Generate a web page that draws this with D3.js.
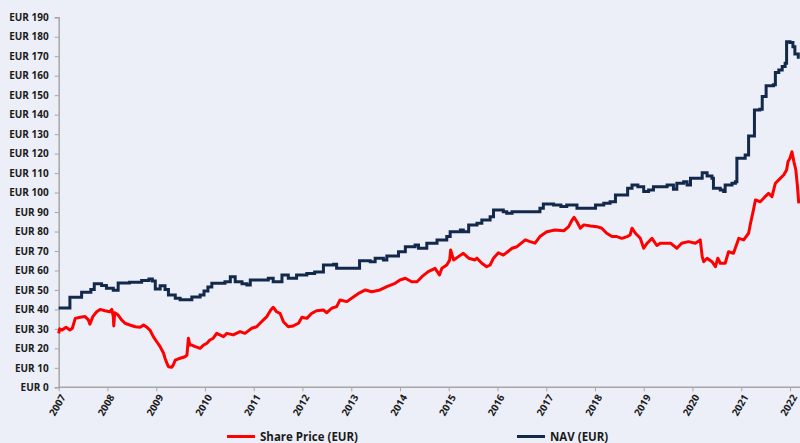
<!DOCTYPE html>
<html>
<head>
<meta charset="utf-8">
<script src="https://cdn.jsdelivr.net/npm/d3@7"></script>
<style>
  html, body { margin: 0; padding: 0; background: #ECEFF8; }
  svg { display: block; }
  text { font-family: "Open Sans", sans-serif; font-weight: bold; fill: #1a1a1a; }
</style>
</head>
<body>
<script>
//chart data, dates as decimal years
var navDates = [2007.0, 2007.23, 2007.47, 2007.66, 2007.73, 2007.88, 2007.98, 2008.12, 2008.22, 2008.45,
    2008.7, 2008.85, 2008.92, 2008.98, 2009.08, 2009.18, 2009.25, 2009.39, 2009.49, 2009.73,
    2009.9, 2009.98, 2010.06, 2010.14, 2010.41, 2010.52, 2010.62, 2010.76, 2010.86, 2010.93,
    2011.3, 2011.4, 2011.58, 2011.71, 2011.88, 2012.09, 2012.25, 2012.43, 2012.64, 2012.7,
    2013.17, 2013.39, 2013.49, 2013.66, 2013.73, 2013.97, 2014.11, 2014.31, 2014.38, 2014.55,
    2014.76, 2014.96, 2015.03, 2015.24, 2015.3, 2015.41, 2015.58, 2015.68, 2015.85, 2015.92,
    2016.12, 2016.19, 2016.3, 2016.87, 2016.94, 2017.15, 2017.3, 2017.42, 2017.63, 2018.01,
    2018.18, 2018.31, 2018.42, 2018.67, 2018.76, 2018.88, 2019.0, 2019.1, 2019.2, 2019.48,
    2019.61, 2019.68, 2019.82, 2019.89, 2019.96, 2020.2, 2020.3, 2020.4, 2020.43, 2020.57,
    2020.64, 2020.67, 2020.81, 2020.88, 2020.91, 2021.08, 2021.15, 2021.27, 2021.38, 2021.43,
    2021.51, 2021.66, 2021.7, 2021.77, 2021.84, 2021.9, 2021.93, 2022.0, 2022.06, 2022.1,
    2022.17, 2022.2];
var navValues = [40.7, 46.2, 48.8, 50.2, 53.2, 52.3, 50.8, 49.8, 53.6, 54.0,
    54.8, 55.6, 54.6, 50.5, 52.2, 50.2, 47.4, 45.7, 45.0, 46.4,
    47.4, 49.5, 51.5, 53.4, 54.2, 56.8, 54.2, 53.2, 52.5, 55.1,
    56.0, 54.2, 57.7, 56.0, 57.7, 58.5, 59.2, 62.8, 63.2, 61.1,
    65.0, 64.5, 66.3, 65.4, 67.4, 69.6, 72.2, 73.1, 71.4, 74.0,
    75.7, 77.4, 79.9, 80.8, 79.9, 83.4, 84.2, 85.9, 87.6, 91.1,
    90.2, 89.4, 90.2, 91.9, 94.1, 93.6, 92.8, 93.6, 91.9, 93.6,
    94.5, 95.3, 98.8, 102.2, 103.9, 103.0, 100.5, 101.3, 103.0, 103.9,
    101.7, 104.8, 105.6, 103.9, 107.3, 110.2, 108.5, 107.3, 102.2, 101.3,
    100.5, 103.9, 104.8, 105.6, 117.6, 119.3, 129.1, 142.4, 142.8, 149.3,
    154.8, 155.3, 161.6, 163.0, 164.7, 166.4, 177.5, 177.0, 174.9, 171.2,
    169.5, 169.5];

var priceDates = [2007.0, 2007.02, 2007.07, 2007.15, 2007.23, 2007.28, 2007.34, 2007.44, 2007.54, 2007.61,
    2007.64, 2007.7, 2007.78, 2007.85, 2007.95, 2008.05, 2008.09, 2008.12, 2008.13, 2008.15,
    2008.22, 2008.29, 2008.36, 2008.46, 2008.57, 2008.67, 2008.74, 2008.81, 2008.87, 2008.94,
    2009.01, 2009.08, 2009.15, 2009.18, 2009.22, 2009.25, 2009.32, 2009.35, 2009.39, 2009.49,
    2009.59, 2009.63, 2009.66, 2009.69, 2009.73, 2009.8, 2009.9, 2009.97, 2010.04, 2010.1,
    2010.17, 2010.24, 2010.38, 2010.45, 2010.58, 2010.72, 2010.82, 2010.96, 2011.06, 2011.13,
    2011.2, 2011.27, 2011.35, 2011.4, 2011.47, 2011.54, 2011.61, 2011.71, 2011.81, 2011.92,
    2011.99, 2012.09, 2012.19, 2012.29, 2012.43, 2012.5, 2012.6, 2012.7, 2012.77, 2012.91,
    2013.05, 2013.17, 2013.29, 2013.42, 2013.59, 2013.73, 2013.9, 2014.0, 2014.11, 2014.24,
    2014.35, 2014.45, 2014.58, 2014.72, 2014.81, 2014.86, 2014.96, 2015.02, 2015.04, 2015.1,
    2015.2, 2015.3, 2015.41, 2015.54, 2015.58, 2015.68, 2015.78, 2015.85, 2015.92, 2016.02,
    2016.12, 2016.23, 2016.3, 2016.4, 2016.57, 2016.67, 2016.77, 2016.87, 2017.01, 2017.18,
    2017.36, 2017.46, 2017.53, 2017.57, 2017.63, 2017.7, 2017.77, 2017.91, 2018.04, 2018.14,
    2018.24, 2018.35, 2018.45, 2018.55, 2018.66, 2018.72, 2018.76, 2018.83, 2018.93, 2019.0,
    2019.07, 2019.17, 2019.27, 2019.34, 2019.55, 2019.68, 2019.78, 2019.92, 2020.06, 2020.16,
    2020.2, 2020.23, 2020.3, 2020.4, 2020.47, 2020.52, 2020.57, 2020.67, 2020.74, 2020.84,
    2020.95, 2021.05, 2021.15, 2021.19, 2021.25, 2021.29, 2021.39, 2021.49, 2021.56, 2021.63,
    2021.7, 2021.8, 2021.87, 2021.93, 2021.96, 2022.0, 2022.04, 2022.08, 2022.12, 2022.15,
    2022.18];
var priceValues = [27.7, 30.0, 29.4, 30.8, 29.4, 30.3, 35.4, 36.0, 36.3, 34.6,
    32.4, 36.3, 38.8, 40.0, 39.3, 38.8, 40.0, 36.3, 31.5, 38.3,
    37.1, 34.6, 32.9, 32.0, 31.1, 30.8, 32.0, 30.8, 29.4, 26.0,
    23.4, 20.9, 17.5, 14.9, 12.3, 10.6, 10.3, 11.5, 14.0, 14.9,
    15.7, 16.5, 25.2, 21.7, 21.7, 20.9, 20.0, 21.7, 22.6, 24.3,
    25.2, 27.7, 26.0, 27.7, 26.9, 28.6, 27.7, 30.3, 31.1, 32.9,
    34.6, 36.3, 39.7, 41.1, 38.8, 38.0, 33.7, 31.1, 31.5, 32.9,
    36.0, 35.4, 38.0, 39.3, 39.7, 38.3, 40.6, 41.4, 44.8, 44.0,
    46.5, 48.5, 50.0, 49.1, 50.0, 51.7, 53.4, 55.1, 56.0, 54.2,
    54.2, 56.8, 59.4, 61.1, 57.7, 61.1, 62.8, 65.4, 70.5, 65.4,
    67.1, 68.8, 66.3, 65.4, 66.3, 63.7, 61.9, 62.8, 66.3, 69.1,
    67.9, 70.0, 71.4, 72.2, 75.7, 74.8, 74.0, 77.4, 79.9, 80.8,
    80.4, 82.5, 85.9, 87.3, 85.0, 81.7, 83.4, 82.8, 82.5, 81.7,
    79.1, 77.4, 77.4, 76.5, 77.4, 78.2, 81.7, 79.1, 76.5, 71.4,
    74.0, 76.5, 72.8, 74.0, 74.0, 71.4, 74.0, 74.8, 74.0, 75.7,
    67.1, 64.5, 66.3, 64.5, 61.9, 66.3, 63.7, 63.7, 69.6, 68.8,
    76.5, 75.7, 79.1, 84.2, 91.1, 96.2, 95.3, 97.9, 99.6, 97.9,
    104.8, 107.3, 109.0, 111.6, 115.9, 117.6, 121.0, 115.9, 111.6, 103.9,
    94.5];

var yearTicks = [2007, 2008, 2009, 2010, 2011, 2012, 2013, 2014, 2015, 2016, 2017, 2018, 2019, 2020, 2021, 2022];
var valueTicks = d3.range(0, 200, 10);
var seriesNames = ["Share Price (EUR)", "NAV (EUR)"];

//decimal year to Date
function toDate(v) {
    var yr = Math.floor(v);
    var start = new Date(yr, 0, 1), end = new Date(yr + 1, 0, 1);
    return new Date(start.getTime() + (v - yr) * (end - start));
}

var w = 800, h = 443;
var plotLeft = 58.7, plotRight = 800, plotTop = 17.3, plotBottom = 387.3;

var svg = d3.select("body").append("svg")
    .attr("width", w)
    .attr("height", h);

svg.append("rect")
    .attr("width", w)
    .attr("height", h)
    .style("fill", "#ECEFF8");

//scales: 2007..2022 spans 58.7..790
var x = d3.scaleTime()
    .domain([toDate(2007), toDate(2022)])
    .range([plotLeft, 790]);

var y = d3.scaleLinear()
    .domain([0, 190])
    .range([plotBottom, plotTop]);

//y axis
var yAxis = svg.append("g")
    .attr("class", "axis")
    .attr("transform", "translate(" + plotLeft + ",0)")
    .call(d3.axisLeft(y).tickValues(valueTicks).tickSize(4).tickPadding(6)
        .tickFormat(function (d) { return "EUR " + d; }));

//x axis, line runs on to the right edge
var xAxis = svg.append("g")
    .attr("class", "axis")
    .attr("transform", "translate(0," + plotBottom + ")")
    .call(d3.axisBottom(x).tickValues(yearTicks.map(toDate)).tickSize(4)
        .tickFormat(d3.timeFormat("%Y")));

xAxis.select(".domain").attr("d", "M" + plotLeft + ",0H" + plotRight);

xAxis.selectAll(".tick text")
    .attr("text-anchor", "end")
    .attr("transform", "translate(4,8) rotate(-60)")
    .attr("dy", "0.35em")
    .attr("y", 0)
    .attr("x", 0);

svg.selectAll(".axis .domain")
    .style("stroke", "#A6A6A6")
    .style("stroke-width", 1.5);
svg.selectAll(".axis .tick line")
    .style("stroke", "#A6A6A6");
svg.selectAll(".axis .tick text")
    .style("font-size", "10px")
    .style("fill", "#1a1a1a");

//lines
var priceLine = d3.line()
    .x(function (d) { return x(toDate(d[0])); })
    .y(function (d) { return y(d[1]); });

var navLine = d3.line()
    .curve(d3.curveStepAfter)
    .x(function (d) { return x(toDate(d[0])); })
    .y(function (d) { return y(d[1]); });

svg.append("path")
    .datum(d3.zip(navDates, navValues))
    .attr("d", navLine)
    .style("fill", "none")
    .style("stroke", "#13294B")
    .style("stroke-width", 3);

svg.append("path")
    .datum(d3.zip(priceDates, priceValues))
    .attr("d", priceLine)
    .style("fill", "none")
    .style("stroke", "#FF0000")
    .style("stroke-width", 3)
    .style("stroke-linejoin", "round");

//legend
var legendX = [227, 517];
var legendColors = ["#FF0000", "#13294B"];
var legend = svg.selectAll(".legend")
    .data(seriesNames)
    .enter()
    .append("g")
    .attr("class", "legend")
    .attr("transform", function (d, i) { return "translate(" + legendX[i] + ",436.5)"; });

legend.append("line")
    .attr("x1", 0)
    .attr("x2", 28)
    .style("stroke", function (d, i) { return legendColors[i]; })
    .style("stroke-width", 3);

legend.append("text")
    .attr("x", 33)
    .attr("dy", "0.35em")
    .style("font-size", "11.5px")
    .text(function (d) { return d; });
</script>
</body>
</html>
